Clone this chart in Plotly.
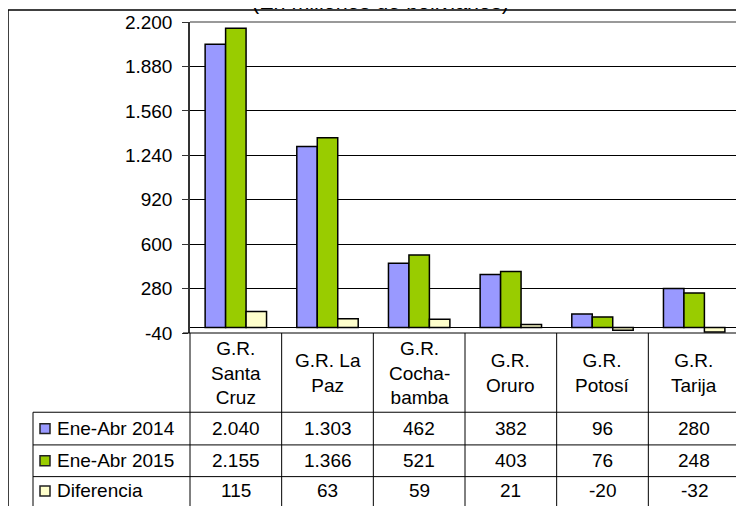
import plotly.graph_objects as go

categories = ["G.R.<br>Santa<br>Cruz", "G.R. La<br>Paz", "G.R.<br>Cocha-<br>bamba",
              "G.R.<br>Oruro", "G.R.<br>Potosí", "G.R.<br>Tarija"]
series_names = ["Ene-Abr 2014", "Ene-Abr 2015", "Diferencia"]
vals_2014 = [2040, 1303, 462, 382, 96, 280]
vals_2015 = [2155, 1366, 521, 403, 76, 248]
vals_diff = [115, 63, 59, 21, -20, -32]
y_tickvals = [-40, 280, 600, 920, 1240, 1560, 1880, 2200]
y_ticktext = ["-40", "280", "600", "920", "1.240", "1.560", "1.880", "2.200"]
title_text = "(En millones de bolivianos)"

colors = ["#9999FF", "#99CC00", "#FFFFCC"]
FONT = "Arial, Liberation Sans, sans-serif"
FS = 19

# page body has an 8px margin; figure sized to fit the visible window
OFF = 8
W, H = 744 - OFF, 506 - OFF
L, T = 190 - OFF, 19 - OFF
R = W - (740 - OFF)
B = H - (333 - OFF)
PW, PH = W - L - R, H - T - B


def px_x(X):
    # X in reference-picture pixels -> paper coordinate
    return (X - 190) / PW


def px_y(Y):
    return (333 - Y) / PH


def fmt(v):
    s = f"{abs(v):,}".replace(",", ".")
    return ("-" if v < 0 else "") + s


fig = go.Figure()
series = [vals_2014, vals_2015, vals_diff]
for name, vals, c in zip(series_names, series, colors):
    fig.add_trace(go.Bar(x=categories, y=vals, name=name,
                         marker=dict(color=c, line=dict(color="black", width=1.5))))

shapes = []
# outer frame
shapes.append(dict(type="line", xref="paper", yref="paper", x0=px_x(8), x1=px_x(760),
                   y0=px_y(7), y1=px_y(7), line=dict(color="black", width=1.5)))
shapes.append(dict(type="line", xref="paper", yref="paper", x0=px_x(8), x1=px_x(8),
                   y0=px_y(7), y1=px_y(520), line=dict(color="black", width=1.5)))
# plot border top and right (gray)
shapes.append(dict(type="line", xref="paper", yref="paper", x0=0, x1=1, y0=1, y1=1,
                   line=dict(color="#999999", width=2)))
shapes.append(dict(type="line", xref="paper", yref="paper", x0=1, x1=1, y0=1, y1=px_y(520),
                   line=dict(color="#888888", width=2)))
# table top line
shapes.append(dict(type="line", xref="paper", yref="paper", x0=px_x(183), x1=1, y0=0, y1=0,
                   line=dict(color="black", width=1)))
# vertical column lines
n = len(categories)
for k in range(n):
    shapes.append(dict(type="line", xref="paper", yref="paper", x0=k / n, x1=k / n,
                       y0=0, y1=px_y(520), line=dict(color="black", width=1)))
# row lines
row_tops = [413, 446, 478]
for ry in row_tops:
    shapes.append(dict(type="line", xref="paper", yref="paper", x0=px_x(33), x1=1,
                       y0=px_y(ry), y1=px_y(ry), line=dict(color="black", width=1)))
shapes.append(dict(type="line", xref="paper", yref="paper", x0=px_x(33), x1=px_x(33),
                   y0=px_y(413), y1=px_y(520), line=dict(color="black", width=1)))

annotations = []
# title
annotations.append(dict(text=title_text, xref="paper", yref="paper", x=px_x(380), y=px_y(12.5),
                        xanchor="center", yanchor="bottom", showarrow=False,
                        font=dict(family=FONT, size=21.5, color="black")))
# header labels
for c in categories:
    annotations.append(dict(text=c, xref="x", yref="paper", x=c, y=px_y(373),
                            xanchor="center", yanchor="middle", showarrow=False,
                            font=dict(family=FONT, size=FS, color="black")))
row_centers = [429.5, 462, 492.5]
for i, (name, vals, col) in enumerate(zip(series_names, series, colors)):
    yc = row_centers[i]
    annotations.append(dict(text=name, xref="paper", yref="paper", x=px_x(55), y=px_y(yc),
                            xanchor="left", yanchor="middle", showarrow=False,
                            font=dict(family=FONT, size=FS, color="black")))
    shapes.append(dict(type="rect", xref="paper", yref="paper", x0=px_x(40), x1=px_x(50),
                       y0=px_y(yc - 5), y1=px_y(yc + 5), fillcolor=col,
                       line=dict(color="#222222", width=1.5)))
    for c, v in zip(categories, vals):
        annotations.append(dict(text=fmt(v), xref="x", yref="paper", x=c, y=px_y(yc),
                                xanchor="center", yanchor="middle", showarrow=False,
                                font=dict(family=FONT, size=FS, color="black")))

fig.update_layout(
    width=W, height=H,
    margin=dict(l=L, r=R, t=T, b=B, pad=0),
    paper_bgcolor="white", plot_bgcolor="white",
    barmode="group", bargap=0.33, bargroupgap=0,
    showlegend=False,
    font=dict(family=FONT, size=FS, color="black"),
    xaxis=dict(range=[-0.5, 5.5], showticklabels=False, ticks="", showgrid=False,
               zeroline=False, showline=False, fixedrange=True),
    yaxis=dict(range=[-40, 2200], tickvals=y_tickvals, ticktext=y_ticktext,
               ticks="outside", ticklen=6, tickcolor="#333333", tickwidth=1,
               ticklabelstandoff=6,
               showline=True, linecolor="#333333", linewidth=1.5,
               showgrid=True, gridcolor="black", gridwidth=1,
               zeroline=True, zerolinecolor="black", zerolinewidth=1,
               tickfont=dict(family=FONT, size=FS, color="black")),
    shapes=shapes, annotations=annotations,
)

fig.write_html("out.html")
